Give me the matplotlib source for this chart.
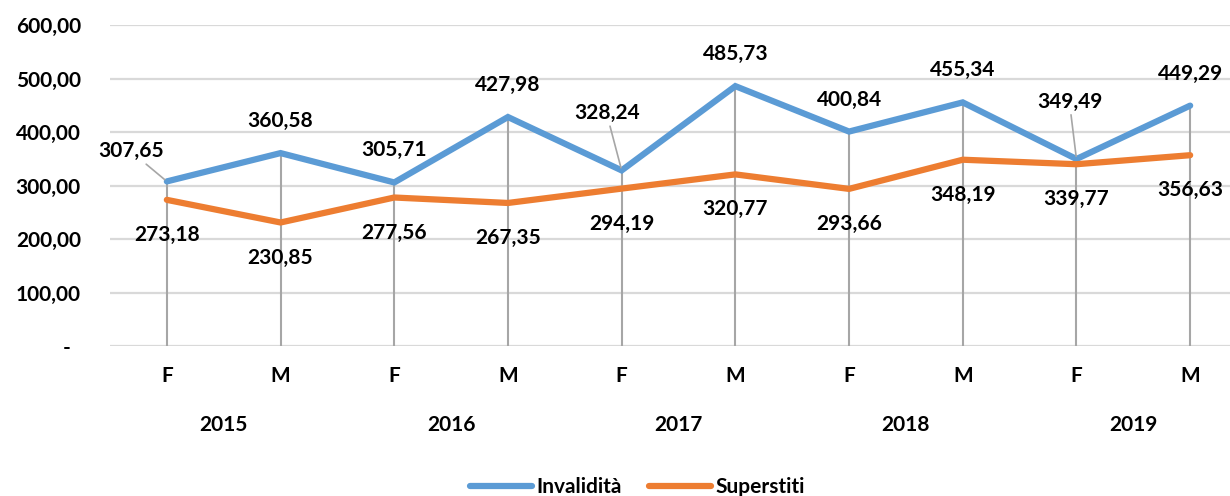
import numpy as np
import matplotlib
matplotlib.use('Agg')
import matplotlib.pyplot as plt
from matplotlib import transforms

# data
years = ["2015", "2016", "2017", "2018", "2019"]
sexes = ["F", "M"] * 5
invalidita = [307.65, 360.58, 305.71, 427.98, 328.24, 485.73, 400.84, 455.34, 349.49, 449.29]
superstiti = [273.18, 230.85, 277.56, 267.35, 294.19, 320.77, 293.66, 348.19, 339.77, 356.63]
yticks = [0, 100, 200, 300, 400, 500, 600]


def fmt(v):
    return f"{v:.2f}".replace(".", ",")


FONT = dict(family='Lato', fontweight='bold', fontsize=15)
BLUE = '#5B9BD5'
ORANGE = '#ED7D31'

fig = plt.figure(figsize=(12.3, 4.96), dpi=100)
ax = fig.add_axes([110 / 1230, 1 - 346 / 496, 1 - 110 / 1230, (346 - 25) / 496])

x = np.arange(len(sexes))
ax.set_xlim(-0.5, len(sexes) - 0.5 - 17 / 113.7)
ax.set_ylim(0, 600)

for y in yticks:
    ax.axhline(y, color='#d9d9d9', lw=1.6, zorder=0)
ax.vlines(x, 0, np.maximum(invalidita, superstiti), color='#a6a6a6', lw=1.5, zorder=1)

ax.plot(x, invalidita, color=BLUE, lw=4.5, solid_capstyle='round', solid_joinstyle='miter', zorder=3)
ax.plot(x, superstiti, color=ORANGE, lw=4.5, solid_capstyle='round', solid_joinstyle='miter', zorder=3)

# label offsets in pixels (label centre relative to point)
inv_off = {0: (-36, 30), 4: (-15, 57), 8: (-7, 57)}
for i, v in enumerate(invalidita):
    dx, dy = inv_off.get(i, (0, 32))
    kw = {}
    if i in inv_off:
        kw['arrowprops'] = dict(arrowstyle='-', color='#a6a6a6', lw=1.2, shrinkA=0, shrinkB=2)
    ax.annotate(fmt(v), (i, v), xytext=(dx, dy), textcoords='offset pixels',
                ha='center', va='center', **FONT, **kw)
for i, v in enumerate(superstiti):
    ax.annotate(fmt(v), (i, v), xytext=(0, -35), textcoords='offset pixels',
                ha='center', va='center', **FONT)

for s in ax.spines.values():
    s.set_visible(False)
ax.set_xticks([])
ax.set_yticks(yticks)
ax.set_yticklabels(["-  "] + [fmt(v) for v in yticks[1:]], **FONT)
ax.tick_params(axis='y', length=0, pad=21)

# category labels
trans = transforms.blended_transform_factory(ax.transData, fig.transFigure)
for i, s in enumerate(sexes):
    fig.text(i, 1 - 376 / 496, s, transform=trans, ha='center', va='center', **FONT)
for j, yr in enumerate(years):
    fig.text(2 * j + 0.5, 1 - 425 / 496, yr, transform=trans, ha='center', va='center', **FONT)

ax.plot([], [], color=BLUE, lw=4.5, solid_capstyle='round', label='Invalidità')
ax.plot([], [], color=ORANGE, lw=4.5, solid_capstyle='round', label='Superstiti')
fig.legend(loc='center', bbox_to_anchor=(0.518, 1 - 487 / 496), ncol=2, frameon=False,
           handlelength=3.0, handletextpad=0.2, columnspacing=1.3,
           prop={'family': 'Lato', 'weight': 'bold', 'size': 15})

fig.savefig('out.png', dpi=100, facecolor='white')
